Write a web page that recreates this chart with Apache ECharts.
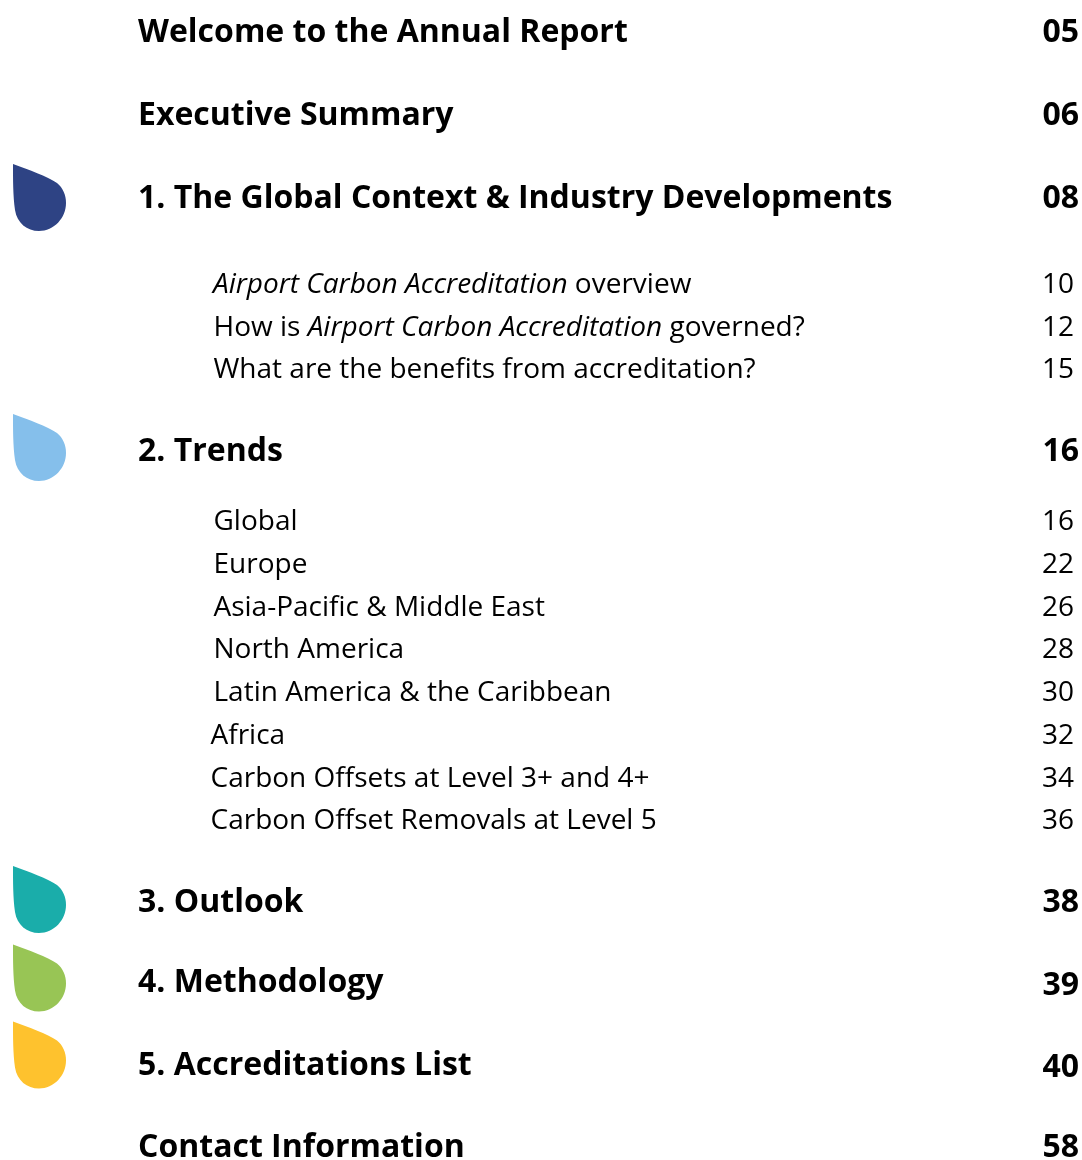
<!DOCTYPE html>
<html>
<head>
<meta charset="utf-8">
<style>
  html, body { margin: 0; padding: 0; background: #ffffff; }
  #main { width: 1082px; height: 1160px; }
</style>
<script src="https://cdn.jsdelivr.net/npm/echarts@6/dist/echarts.min.js"></script>
</head>
<body>
<div id="main"></div>
<script>
// contents
var headings = [
  'Welcome to the Annual Report',
  'Executive Summary',
  '1. The Global Context & Industry Developments',
  '2. Trends',
  '3. Outlook',
  '4. Methodology',
  '5. Accreditations List',
  'Contact Information'
];
var headingPages = ['05', '06', '08', '16', '38', '39', '40', '58'];

var subItems = [
  '{i|Airport Carbon Accreditation} overview',
  'How is {i|Airport Carbon Accreditation} governed?',
  'What are the benefits from accreditation?',
  'Global',
  'Europe',
  'Asia-Pacific & Middle East',
  'North America',
  'Latin America & the Caribbean',
  'Africa',
  'Carbon Offsets at Level 3+ and 4+',
  'Carbon Offset Removals at Level 5'
];
var subPages = ['10', '12', '15', '16', '22', '26', '28', '30', '32', '34', '36'];

var dropColors = ['#2e4384', '#85bfeb', '#1aadaa', '#98c555', '#fec22e'];

// layout, in page pixels
var headingRow = [33, 116, 199, 452, 903, 983, 1066, 1148];
var headingPageRow = [33, 116, 199, 452, 903, 986, 1068, 1148];
var subRow = [285, 328, 370, 522, 565, 608, 650, 693, 736, 779, 821];
var subLeft = [213, 213.5, 213.5, 213.5, 213.5, 213.5, 213.5, 213.5, 210.5, 210.5, 210.5];
var dropRow = [197.5, 447.5, 899.5, 978, 1055];

var dropPath = 'path://M0 0C16 6 34 12 44 19C50 24 53 31 53 39C53 54 41 67 26 67C14 67 4 59 2 46C0 32 0 15 0 0Z';

function textSeries(name, rows, xs, texts, size, weight, pos) {
  return {
    name: name,
    type: 'scatter',
    symbolSize: 0,
    silent: true,
    itemStyle: { opacity: 1 },
    data: rows.map(function (y, i) {
      return { value: [xs[i], y], text: texts[i] };
    }),
    label: {
      show: true,
      position: pos,
      distance: 0,
      color: '#000000',
      opacity: 1,
      fontFamily: '"Open Sans"',
      fontSize: size,
      fontWeight: weight,
      formatter: function (p) { return p.data.text; },
      rich: {
        i: { fontFamily: '"Open Sans"', fontSize: size, fontStyle: 'italic', color: '#000000' }
      }
    }
  };
}

var chart = echarts.init(document.getElementById('main'), null, { renderer: 'canvas' });
chart.setOption({
  animation: false,
  backgroundColor: '#ffffff',
  tooltip: { show: false },
  grid: { left: 0, right: 0, top: 0, bottom: 0 },
  xAxis: { type: 'value', min: 0, max: 1082, show: false },
  yAxis: { type: 'value', min: 0, max: 1160, inverse: true, show: false },
  series: [
    {
      name: 'drops',
      type: 'scatter',
      symbol: dropPath,
      symbolKeepAspect: false,
      symbolSize: [53, 67],
      silent: true,
      data: dropRow.map(function (y, i) {
        return { value: [39.5, y], itemStyle: { color: dropColors[i], opacity: 1 } };
      })
    },
    textSeries('headings', headingRow, headingRow.map(function () { return 138; }), headings, 32, 700, 'right'),
    textSeries('headingPages', headingPageRow, headingPageRow.map(function () { return 1079; }), headingPages, 32, 700, 'left'),
    textSeries('items', subRow, subLeft, subItems, 28, 400, 'right'),
    textSeries('itemPages', subRow, subRow.map(function () { return 1074; }), subPages, 28, 400, 'left')
  ]
});
</script>
</body>
</html>
